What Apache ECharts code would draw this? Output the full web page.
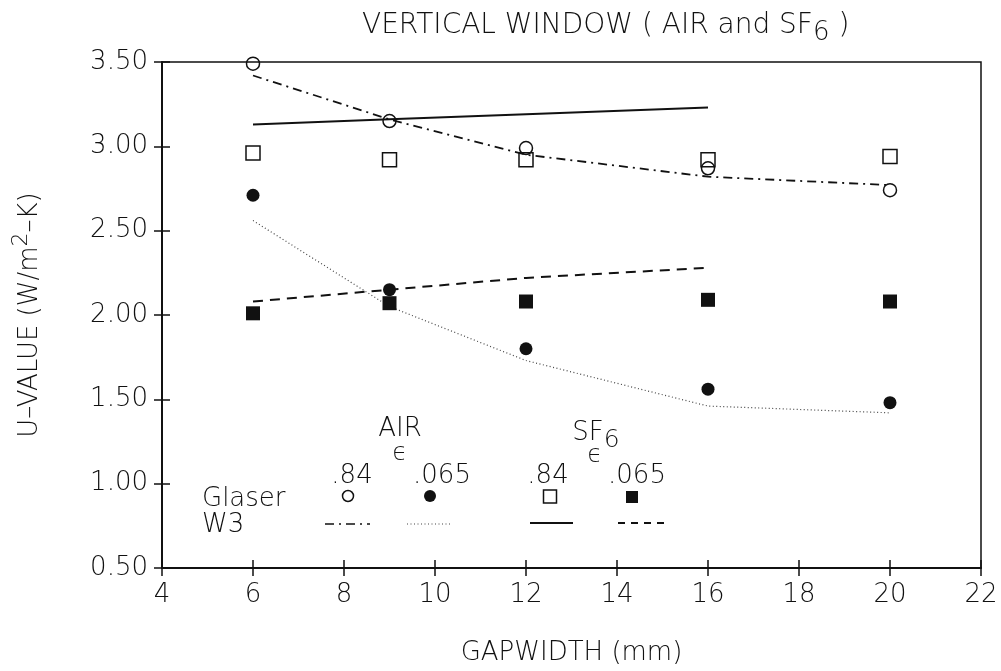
<!DOCTYPE html>
<html lang="en">
<head>
    <meta charset="UTF-8">
    <script type="text/javascript" src="https://cdn.jsdelivr.net/npm/echarts@6/dist/echarts.min.js"></script>
    <style>
        html, body { margin: 0; padding: 0; background: #fff; }
        #chart { width: 1001px; height: 671px; }
    </style>
</head>
<body>
<div id="chart"></div>
<script>
    // gap widths (mm)
    var gapMm = [6, 9, 12, 16, 20];
    var gapW3Sf6 = [6, 9, 12, 16];

    // Glaser measurements
    var glaserAir084 = [3.49, 3.15, 2.99, 2.87, 2.74];
    var glaserAir065 = [2.71, 2.15, 1.80, 1.56, 1.48];
    var glaserSf084 = [2.96, 2.92, 2.92, 2.92, 2.94];
    var glaserSf065 = [2.01, 2.07, 2.08, 2.09, 2.08];

    // W3 calculations
    var w3Air084 = [3.42, 3.16, 2.95, 2.82, 2.77];
    var w3Air065 = [2.56, 2.05, 1.73, 1.46, 1.42];
    var w3Sf084 = [3.13, 3.16, 3.19, 3.23];
    var w3Sf065 = [2.08, 2.15, 2.22, 2.28];

    var xTicks = [4, 6, 8, 10, 12, 14, 16, 18, 20, 22];
    var yTicks = [0.5, 1.0, 1.5, 2.0, 2.5, 3.0, 3.5];

    var FONT = 'DejaVu Sans';
    var WEIGHT = 300;
    var INK = '#111';

    function pairs(xs, ys) {
        return ys.map(function (v, i) { return [xs[i], v]; });
    }

    function txt(text, x, y, size, align) {
        return {
            type: 'text', x: x, y: y, z: 10,
            style: {
                text: text, fill: INK,
                font: WEIGHT + ' ' + size + 'px "' + FONT + '"',
                align: align || 'center', textAlign: align || 'center',
                verticalAlign: 'middle', textVerticalAlign: 'middle'
            }
        };
    }

    function sample(x1, x2, y, dash, width, color) {
        return {
            type: 'line', z: 10,
            shape: {x1: x1, y1: y, x2: x2, y2: y},
            style: {stroke: color || INK, lineWidth: width, lineDash: dash}
        };
    }

    function sf6Label(x, y) {
        return {
            type: 'text', x: x, y: y, z: 10,
            style: {
                text: '{n|SF}{s|6}', fill: INK,
                align: 'center', textAlign: 'center',
                verticalAlign: 'middle', textVerticalAlign: 'middle',
                rich: {
                    n: {fontFamily: FONT, fontWeight: WEIGHT, fontSize: 26, lineHeight: 40, color: INK},
                    s: {fontFamily: FONT, fontWeight: WEIGHT, fontSize: 25, lineHeight: 26, verticalAlign: 'bottom', color: INK}
                }
            }
        };
    }

    var axisCommon = {
        axisLine: {show: true, lineStyle: {color: INK, width: 2}},
        splitLine: {show: false}
    };

    var myChart = echarts.init(document.getElementById('chart'), null, {renderer: 'canvas'});
    myChart.setOption({
        backgroundColor: '#fff',
        animation: false,
        title: {
            left: 362,
            top: 6,
            padding: 0,
            text: '{n|VERTICAL WINDOW ( AIR and SF}{s|6}{n| )}',
            textStyle: {
                fontWeight: WEIGHT,
                rich: {
                    n: {fontFamily: FONT, fontWeight: WEIGHT, fontSize: 28, lineHeight: 40, color: INK},
                    s: {fontFamily: FONT, fontWeight: WEIGHT, fontSize: 26, lineHeight: 24, verticalAlign: 'bottom', color: INK}
                }
            }
        },
        grid: {
            left: 162, right: 20, top: 62, bottom: 102,
            show: true, borderColor: INK, borderWidth: 1.5
        },
        xAxis: [
            Object.assign({
                type: 'value', min: xTicks[0], max: xTicks[xTicks.length - 1], interval: 2,
                position: 'bottom',
                name: 'GAPWIDTH (mm)', nameLocation: 'middle', nameGap: 72,
                nameTextStyle: {fontFamily: FONT, fontWeight: WEIGHT, fontSize: 26, color: INK},
                axisTick: {show: true, inside: false, length: 8, lineStyle: {color: INK, width: 1.5}},
                axisLabel: {fontFamily: FONT, fontWeight: WEIGHT, fontSize: 26, color: INK, margin: 14}
            }, axisCommon),
            {
                type: 'value', min: xTicks[0], max: xTicks[xTicks.length - 1], interval: 2,
                position: 'bottom',
                axisLine: {show: false}, splitLine: {show: false}, axisLabel: {show: false},
                axisTick: {show: true, inside: true, length: 8, lineStyle: {color: INK, width: 1.5}}
            }
        ],
        yAxis: [
            Object.assign({
                type: 'value', min: yTicks[0], max: yTicks[yTicks.length - 1], interval: 0.5,
                position: 'left',
                name: '{n|U\u2013VALUE (W/m}{p|2}{n|\u2013K)}',
                nameLocation: 'middle', nameGap: 112, nameRotate: 90,
                nameTextStyle: {
                    rich: {
                        n: {fontFamily: FONT, fontWeight: WEIGHT, fontSize: 26, lineHeight: 40, color: INK},
                        p: {fontFamily: FONT, fontWeight: WEIGHT, fontSize: 22, lineHeight: 22, verticalAlign: 'top', color: INK}
                    }
                },
                axisTick: {show: true, inside: false, length: 8, lineStyle: {color: INK, width: 1.5}},
                axisLabel: {
                    fontFamily: FONT, fontWeight: WEIGHT, fontSize: 26, color: INK, margin: 14,
                    formatter: function (v) { return v.toFixed(2); }
                }
            }, axisCommon),
            {
                type: 'value', min: yTicks[0], max: yTicks[yTicks.length - 1], interval: 0.5,
                position: 'left',
                axisLine: {show: false}, splitLine: {show: false}, axisLabel: {show: false},
                axisTick: {show: true, inside: true, length: 8, lineStyle: {color: INK, width: 1.5}}
            }
        ],
        series: [
            {
                name: 'W3 AIR .84', type: 'line', z: 2,
                data: pairs(gapMm, w3Air084), showSymbol: false, symbol: 'none',
                lineStyle: {color: INK, width: 1.8, type: [9, 5, 2, 5]}
            },
            {
                name: 'W3 AIR .065', type: 'line', z: 2,
                data: pairs(gapMm, w3Air065), showSymbol: false, symbol: 'none',
                lineStyle: {color: '#444', width: 1.2, type: [1, 2.5]}
            },
            {
                name: 'W3 SF6 .84', type: 'line', z: 2,
                data: pairs(gapW3Sf6, w3Sf084), showSymbol: false, symbol: 'none',
                lineStyle: {color: INK, width: 2, type: 'solid'}
            },
            {
                name: 'W3 SF6 .065', type: 'line', z: 2,
                data: pairs(gapW3Sf6, w3Sf065), showSymbol: false, symbol: 'none',
                lineStyle: {color: INK, width: 2, type: [10, 7]}
            },
            {
                name: 'Glaser AIR .84', type: 'scatter', z: 3,
                data: pairs(gapMm, glaserAir084), symbol: 'circle', symbolSize: 13,
                itemStyle: {color: 'rgba(255,255,255,0)', borderColor: INK, borderWidth: 1.5, opacity: 1}
            },
            {
                name: 'Glaser AIR .065', type: 'scatter', z: 3,
                data: pairs(gapMm, glaserAir065), symbol: 'circle', symbolSize: 13,
                itemStyle: {color: INK, opacity: 1}
            },
            {
                name: 'Glaser SF6 .84', type: 'scatter', z: 3,
                data: pairs(gapMm, glaserSf084), symbol: 'rect', symbolSize: 14,
                itemStyle: {color: 'rgba(255,255,255,0)', borderColor: INK, borderWidth: 1.5, opacity: 1}
            },
            {
                name: 'Glaser SF6 .065', type: 'scatter', z: 3,
                data: pairs(gapMm, glaserSf065), symbol: 'rect', symbolSize: 14,
                itemStyle: {color: INK, opacity: 1}
            }
        ],
        graphic: [
            // in-plot key
            txt('AIR', 400, 429, 26),
            txt('\u03f5', 400, 454, 24),
            txt('.84', 352, 476, 26),
            txt('.065', 442, 476, 26),
            sf6Label(596, 433),
            txt('\u03f5', 595, 456, 24),
            txt('.84', 548, 476, 26),
            txt('.065', 637, 476, 26),
            txt('Glaser', 202, 499, 26, 'left'),
            txt('W3', 202, 525, 26, 'left'),
            {type: 'circle', z: 10, shape: {cx: 348, cy: 496, r: 5.5}, style: {fill: 'none', stroke: INK, lineWidth: 1.5}},
            {type: 'circle', z: 10, shape: {cx: 430, cy: 496, r: 6}, style: {fill: INK}},
            {type: 'rect', z: 10, shape: {x: 543.5, y: 490, width: 13, height: 13}, style: {fill: 'none', stroke: INK, lineWidth: 1.5}},
            {type: 'rect', z: 10, shape: {x: 626, y: 491, width: 12, height: 12}, style: {fill: INK}},
            sample(325, 370, 524, [9, 5, 2, 5], 1.5),
            sample(407, 452, 524, [1, 2.5], 1.2, '#444'),
            sample(530, 573, 523, null, 2),
            sample(618, 665, 523, [7, 6], 2)
        ]
    });
</script>
</body>
</html>
